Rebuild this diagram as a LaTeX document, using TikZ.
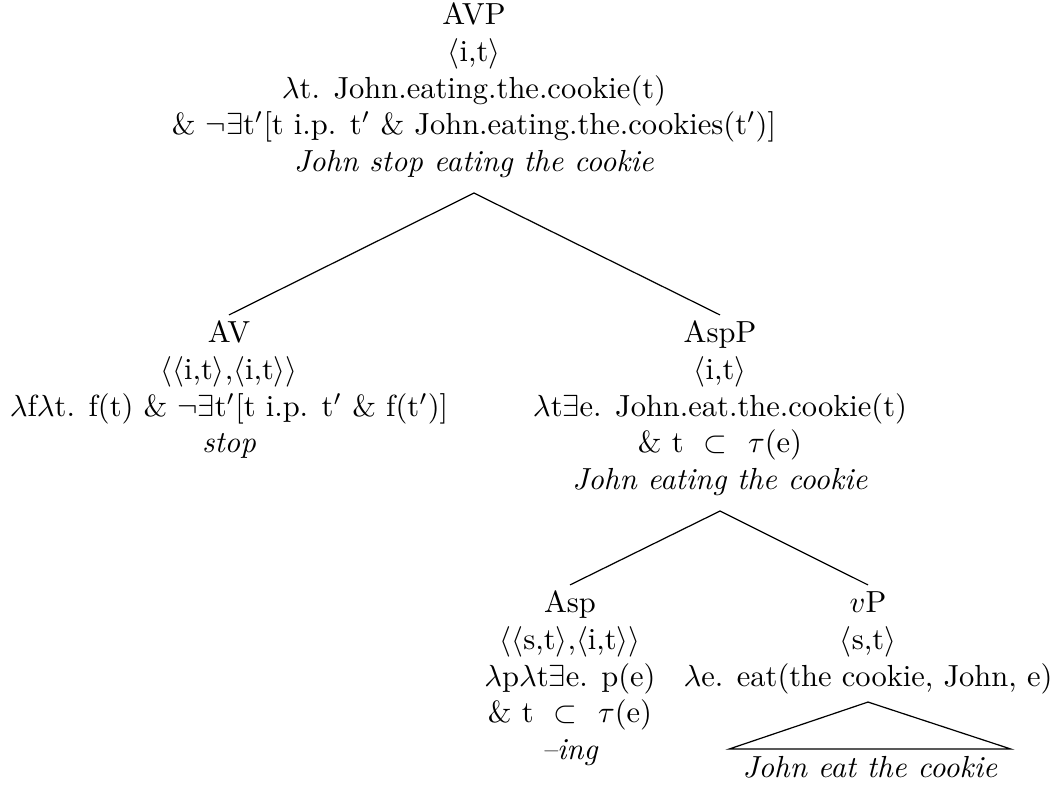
\documentclass[tikz,border=0pt]{standalone}
\begin{document}
\begin{tikzpicture}[x=0.32787pt,y=-0.32787pt,
  lbl/.style={anchor=base,inner sep=0pt,outer sep=0pt,font=\fontsize{10}{12}\selectfont},
  branch/.style={line width=0.4pt,line join=miter}]
\useasboundingbox (0,0) rectangle (1055,788);
% nodes
\node[lbl] (avp) at (474,25) {\begin{tabular}[t]{@{}c@{}}
AVP\\
\(\langle\)i,t\(\rangle\)\\
\(\lambda\)t. John.eating.the.cookie(t)\\
\& \(\neg\exists\)t\('\)[t i.p. t\('\) \& John.eating.the.cookies(t\('\))]\\
\textit{John stop eating the cookie}
\end{tabular}};
\node[lbl] (av) at (229,343) {\begin{tabular}[t]{@{}c@{}}
AV\\
\(\langle\langle\)i,t\(\rangle\),\(\langle\)i,t\(\rangle\rangle\)\\
\(\lambda\)f\(\lambda\)t. f(t) \& \(\neg\exists\)t\('\)[t i.p. t\('\) \& f(t\('\))]\\
\textit{stop}
\end{tabular}};
\node[lbl] (aspp) at (720,343) {\begin{tabular}[t]{@{}c@{}}
AspP\\
\(\langle\)i,t\(\rangle\)\\
\(\lambda\)t\(\exists\)e. John.eat.the.cookie(t)\\
\& t \ \(\subset\) \ \(\tau\)(e)\\
\textit{John eating the cookie}
\end{tabular}};
\node[lbl] (asp) at (570,613) {\begin{tabular}[t]{@{}c@{}}
Asp\\
\(\langle\langle\)s,t\(\rangle\),\(\langle\)i,t\(\rangle\rangle\)\\
\(\lambda\)p\(\lambda\)t\(\exists\)e. p(e)\\
\& t \ \(\subset\) \ \(\tau\)(e)\\
\textit{--ing}
\end{tabular}};
\node[lbl] (vp) at (868,613) {\begin{tabular}[t]{@{}c@{}}
\(v\)P\\
\(\langle\)s,t\(\rangle\)\\
\(\lambda\)e. eat(the cookie, John, e)
\end{tabular}};
\node[lbl] (leaf) at (870,778) {\begin{tabular}[t]{@{}c@{}}
\textit{John eat the cookie}
\end{tabular}};
% branches
\draw[branch] ([yshift=0.8pt]av.north) -- ([yshift=-3.5pt]avp.south) -- ([yshift=0.8pt]aspp.north);
\draw[branch] ([yshift=0.8pt]asp.north) -- ([yshift=-3.5pt]aspp.south) -- ([yshift=0.8pt]vp.north);
\draw[branch] ([yshift=-1.6pt]vp.south) -- ([xshift=-4.4pt,yshift=1.1pt]leaf.north west) -- ([xshift=4.4pt,yshift=1.1pt]leaf.north east) -- cycle;
\end{tikzpicture}
\end{document}
